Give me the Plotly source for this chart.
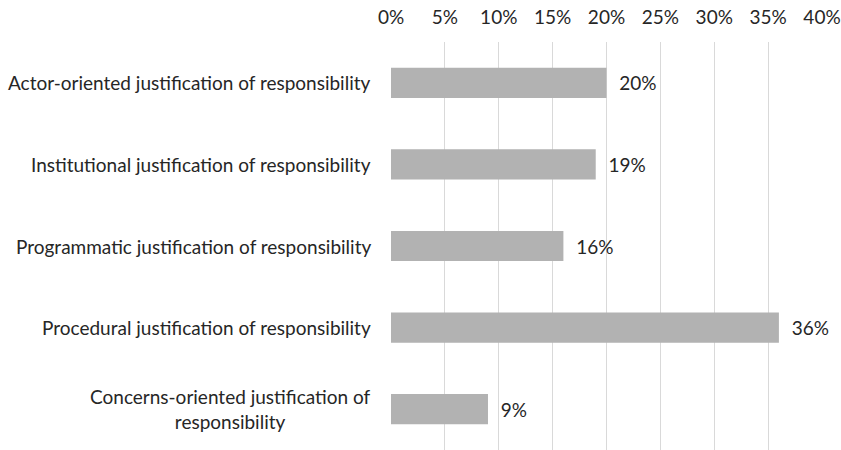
import plotly.graph_objects as go

categories = [
    "Actor-oriented justification of responsibility",
    "Institutional justification of responsibility",
    "Programmatic justification of responsibility",
    "Procedural justification of responsibility",
    "Concerns-oriented justification of<br>responsibility",
]
values = [0.20, 0.19, 0.16, 0.36, 0.09]
value_labels = ["20%", "19%", "16%", "36%", "9%"]
tick_vals = [0, 0.05, 0.10, 0.15, 0.20, 0.25, 0.30, 0.35, 0.40]
tick_text = ["0%", "5%", "10%", "15%", "20%", "25%", "30%", "35%", "40%"]

FONT = "Lato"
TXT = "#262626"
FS = 19

fig = go.Figure(go.Bar(
    x=values, y=list(range(len(categories))), orientation="h",
    marker=dict(color="#b2b2b2", line=dict(width=0)),
    text=value_labels, texttemplate="\u00a0\u00a0%{text}",
    textposition="outside", cliponaxis=False,
    textfont=dict(family=FONT, size=FS, color=TXT),
    width=0.37,
))

for i, c in enumerate(categories):
    fig.add_annotation(x=-0.0418, xref="paper", y=i, yref="y", text=c,
                       showarrow=False, xanchor="right", align="center",
                       font=dict(family=FONT, size=FS, color=TXT))

fig.update_layout(
    width=841, height=450,
    margin=dict(l=391, r=19, t=42, b=0),
    paper_bgcolor="white", plot_bgcolor="white",
    showlegend=False,
    xaxis=dict(side="top", range=[0, 0.40], tickvals=tick_vals, ticktext=tick_text,
               showgrid=True, gridcolor="#d9d9d9", gridwidth=1, zeroline=False,
               showline=False, ticks="", ticklabelstandoff=13,
               tickfont=dict(family=FONT, size=FS, color=TXT)),
    yaxis=dict(range=[4.5, -0.5], showticklabels=False, showgrid=False,
               zeroline=False, showline=False, ticks=""),
)
fig.write_html("out.html")
